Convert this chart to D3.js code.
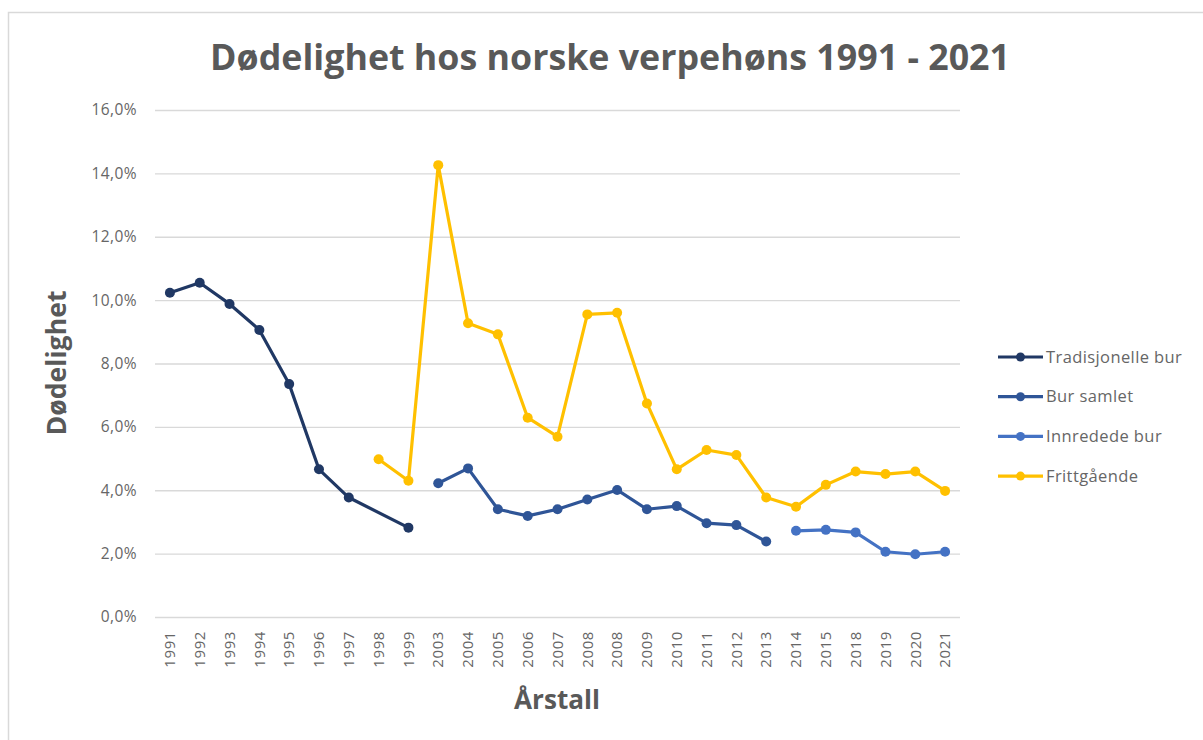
<!DOCTYPE html>
<html><head><meta charset="utf-8">
<script src="https://cdn.jsdelivr.net/npm/d3@7"></script>
<style>body{margin:0;background:#fff}svg{display:block}text{font-family:"Open Sans","Liberation Sans",sans-serif}</style>
</head><body><svg id="c" width="1203" height="740"></svg>
<script>
const categories = ["1991","1992","1993","1994","1995","1996","1997","1998","1999","2003","2004","2005","2006","2007","2008","2008","2009","2010","2011","2012","2013","2014","2015","2018","2019","2020","2021"];
const tradisjonelle = [10.23,10.55,9.88,9.06,7.35,4.66,3.77,null,2.82,null,null,null,null,null,null,null,null,null,null,null,null,null,null,null,null,null,null];
const burSamlet = [null,null,null,null,null,null,null,null,null,4.22,4.69,3.40,3.19,3.40,3.71,4.01,3.40,3.50,2.96,2.90,2.38,null,null,null,null,null,null];
const innredede = [null,null,null,null,null,null,null,null,null,null,null,null,null,null,null,null,null,null,null,null,null,2.72,2.75,2.67,2.06,1.98,2.06];
const frittgaende = [null,null,null,null,null,null,null,4.98,4.30,14.26,9.27,8.92,6.29,5.69,9.55,9.60,6.74,4.66,5.27,5.11,3.77,3.48,4.17,4.59,4.51,4.59,3.98];
const yTicks = [0,2,4,6,8,10,12,14,16];
const seriesNames = ["Tradisjonelle bur","Bur samlet","Innredede bur","Frittgående"];
const seriesColors = ["#203864","#2F5597","#4472C4","#FFC000"];
const seriesData = [tradisjonelle,burSamlet,innredede,frittgaende];

const svg = d3.select("#c");
svg.append("rect").attr("x",8.5).attr("y",12.5).attr("width",1300).attr("height",900)
  .attr("fill","#fff").attr("stroke","#d9d9d9").attr("stroke-width",1.5);

const L=155,R=960,T=110,B=617;
const x = d3.scaleBand().domain(d3.range(categories.length)).range([L,R]);
const y = d3.scaleLinear().domain([0,16]).range([B,T]);
const fmt = v => d3.format(".1f")(v).replace(".",",")+"%";

const yAxis = d3.axisLeft(y).tickValues(yTicks).tickSize(-(R-L)).tickFormat(fmt);
const gy = svg.append("g").attr("transform",`translate(${L},0)`).call(yAxis);
gy.select(".domain").remove();
gy.selectAll(".tick line").attr("stroke","#d9d9d9").attr("stroke-width",1.3);
gy.selectAll(".tick text").attr("x",-18).attr("fill","#666").style("font-size","15.5px").style("letter-spacing","0.4px");

const xAxis = d3.axisBottom(x).tickSize(0).tickFormat(i=>categories[i]);
const gx = svg.append("g").attr("transform",`translate(0,${B})`).call(xAxis);
gx.select(".domain").remove();
gx.selectAll(".tick text").attr("transform","rotate(-90)").attr("text-anchor","end")
  .attr("x",-14).attr("y",0).attr("dy","0.35em").attr("fill","#666").style("font-size","15px").style("letter-spacing","0.6px");

const cx = i => x(i)+x.bandwidth()/2;
seriesData.forEach((arr,k)=>{
  const pts = arr.map((v,i)=>({i,v})).filter(d=>d.v!==null);
  const line = d3.line().x(d=>cx(d.i)).y(d=>y(d.v));
  svg.append("path").datum(pts).attr("d",line).attr("fill","none")
    .attr("stroke",seriesColors[k]).attr("stroke-width",3.2).attr("stroke-linejoin","round");
  svg.selectAll(null).data(pts).enter().append("circle")
    .attr("cx",d=>cx(d.i)).attr("cy",d=>y(d.v)).attr("r",5).attr("fill",seriesColors[k]);
});

const lg = svg.append("g");
seriesNames.forEach((n,k)=>{
  const yy = 357 + k*39.7;
  lg.append("line").attr("x1",998).attr("x2",1043).attr("y1",yy).attr("y2",yy).attr("stroke",seriesColors[k]).attr("stroke-width",3.2);
  lg.append("circle").attr("cx",1020.5).attr("cy",yy).attr("r",4.5).attr("fill",seriesColors[k]);
  lg.append("text").attr("x",1046).attr("y",yy).attr("dy","0.35em").attr("fill","#666").style("font-size","16.5px").style("letter-spacing","0.4px").text(n);
});

function fit(sel,w){const l=sel.node().getComputedTextLength();const fs=parseFloat(sel.style("font-size"));sel.style("font-size",(fs*w/l)+"px");}
const title = svg.append("text").attr("x",610).attr("y",57).attr("dy","0.35em").attr("text-anchor","middle")
  .attr("fill","#595959").style("font-weight","bold").style("font-size","30px").text("Dødelighet hos norske verpehøns 1991 - 2021");
fit(title,800);
const yt = svg.append("text").attr("transform","translate(57,363) rotate(-90)").attr("text-anchor","middle").attr("dy","0.35em")
  .attr("fill","#595959").style("font-weight","bold").style("font-size","24px").text("Dødelighet");
fit(yt,145);
const xt = svg.append("text").attr("x",557).attr("y",700).attr("dy","0.35em").attr("text-anchor","middle")
  .attr("fill","#595959").style("font-weight","bold").style("font-size","24px").text("Årstall");
fit(xt,86);
</script></body></html>
